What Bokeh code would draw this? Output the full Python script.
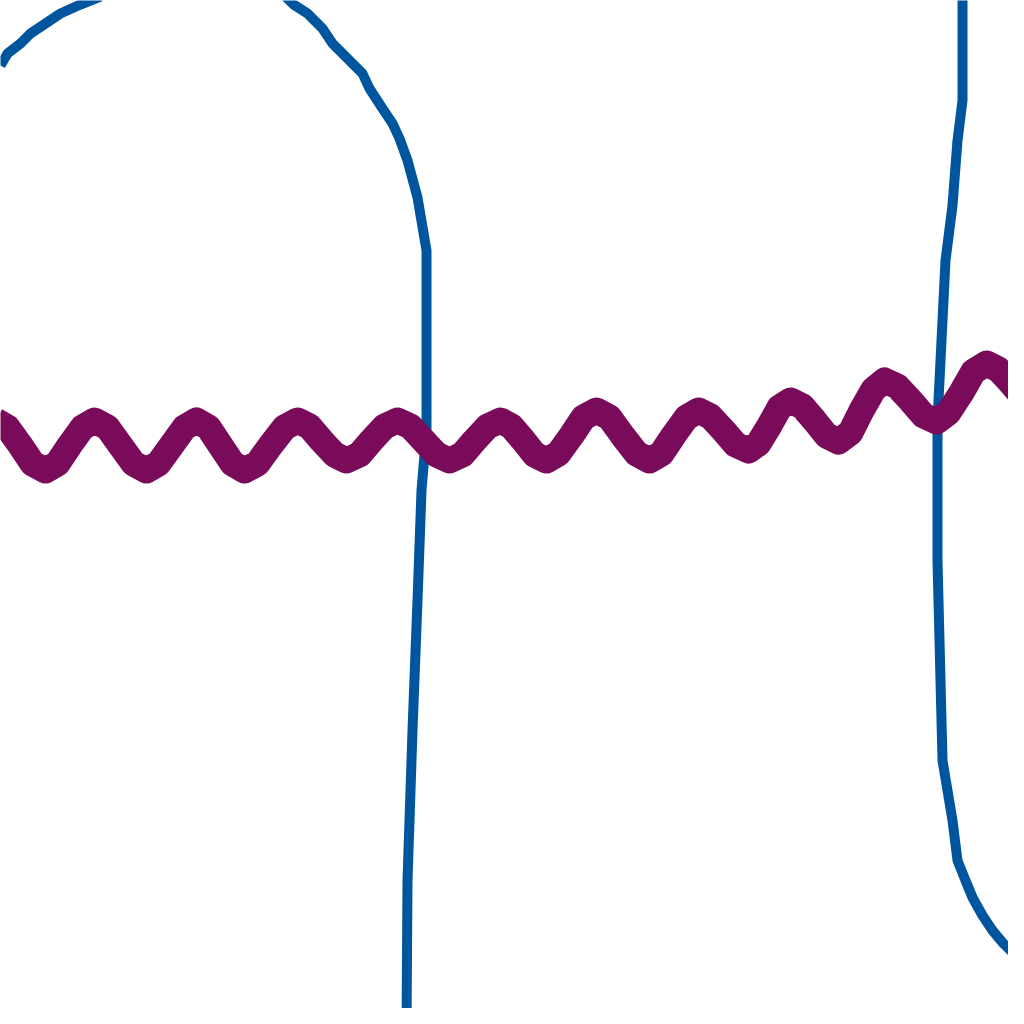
from bokeh.plotting import figure
from bokeh.models import Range1d
from bokeh.embed import file_html
from bokeh.resources import INLINE

# Values (horizontal / vertical position units of the view)
arc_left_x = [0, 7, 20, 30, 45, 60, 80, 100]
arc_left_y = [65, 53, 43, 33, 23, 13, 4, -4]

arc_mid_x = [285, 293, 307, 322, 332, 342, 352, 362, 369, 382, 392, 399, 407, 417, 426, 426, 421, 417, 412, 407, 406]
arc_mid_y = [-4, 4, 13, 28, 43, 53, 63, 73, 88, 108, 123, 138, 160, 197, 250, 430, 490, 600, 730, 880, 1030]

arc_right_x = [962, 962, 957, 952, 945, 942, 937, 937, 940, 942, 952, 957, 965, 972, 982, 992, 1002, 1012, 1024, 1034]
arc_right_y = [-5, 100, 140, 205, 260, 320, 420, 560, 680, 760, 820, 860, 880, 897, 915, 930, 942, 952, 962, 970]

wave_x = [-5, 7, 20, 32, 45, 57, 69, 82, 94, 107, 120, 133, 146, 158, 171, 184, 196,
          208, 220, 232, 244, 257, 270, 284, 297, 309, 321, 334, 346, 359, 371, 384, 397,
          410, 423, 436, 449, 462, 474, 487, 500, 511, 523, 534, 546, 558, 571, 583, 596,
          609, 622, 636, 649, 661, 673, 686, 698, 710, 723, 735, 748, 758, 769, 779, 790,
          802, 814, 826, 838, 850, 861, 873, 884, 897, 910, 923, 936, 948, 961, 973, 986,
          998, 1010, 1022, 1034]
wave_y = [420, 427, 445, 463, 470, 463, 445, 427, 420, 427, 445, 463, 470, 463, 445, 427, 420,
          427, 445, 463, 470, 463, 445, 427, 420, 426, 440, 454, 460, 454, 440, 426, 420,
          426, 440, 454, 460, 454, 440, 426, 420, 426, 440, 454, 460, 453, 435, 417, 410,
          417, 435, 453, 460, 453, 435, 417, 410, 416, 430, 444, 450, 443, 425, 407, 400,
          406, 420, 435, 441, 432, 410, 389, 380, 386, 400, 415, 421, 412, 392, 371, 363,
          369, 382, 396, 405]

BLUE = "#00559f"
PURPLE = "#7a0a5a"

p = figure(width=1008, height=1008, output_backend="svg", toolbar_location=None,
           x_range=Range1d(0, 1008), y_range=Range1d(1008, 0),
           min_border=0, background_fill_color="white", border_fill_color="white")
p.axis.visible = False
p.grid.visible = False
p.outline_line_color = None

p.line(arc_left_x, arc_left_y, line_color=BLUE, line_width=10)
p.line(arc_mid_x, arc_mid_y, line_color=BLUE, line_width=10)
p.line(arc_right_x, arc_right_y, line_color=BLUE, line_width=10)
p.line(wave_x, wave_y, line_color=PURPLE, line_width=26, line_join="round")

open("out.html", "w").write(file_html(p, INLINE))
